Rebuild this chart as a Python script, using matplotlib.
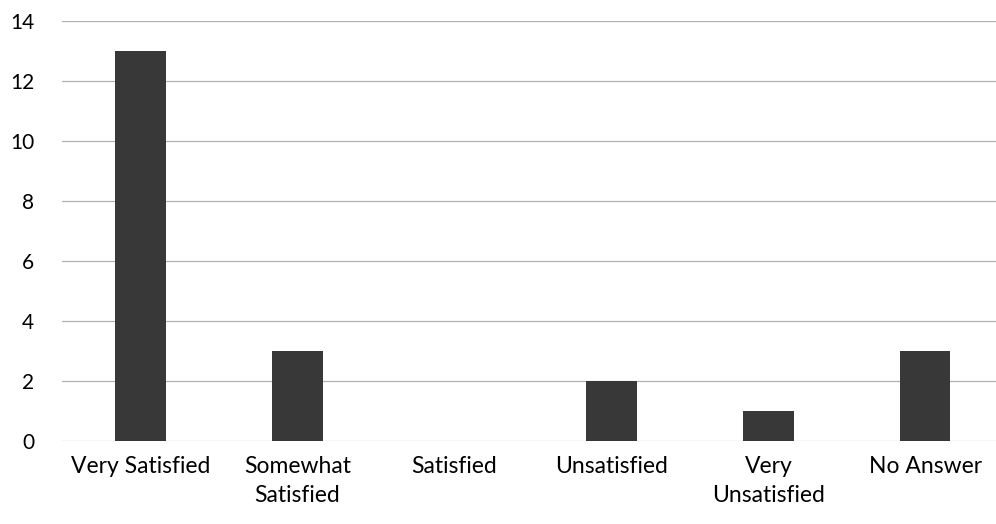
import matplotlib
matplotlib.use("Agg")
import matplotlib.pyplot as plt

categories = ["Very Satisfied", "Somewhat\nSatisfied", "Satisfied",
              "Unsatisfied", "Very\nUnsatisfied", "No Answer"]
counts = [13, 3, 0, 2, 1, 3]
y_ticks = [0, 2, 4, 6, 8, 10, 12, 14]

plt.rcParams["font.family"] = ["Lato", "DejaVu Sans"]

fig = plt.figure(figsize=(9.96, 5.24), dpi=100)
ax = fig.add_axes([62 / 996, 83 / 524, 934 / 996, 420 / 524])

x = list(range(len(categories)))
ax.bar(x, counts, width=0.32, color="#383838", zorder=3)

ax.set_xlim(-0.5, 5.45)
ax.set_ylim(0, 14)
ax.set_yticks(y_ticks)
ax.set_yticklabels([str(v) for v in y_ticks], fontsize=15)
ax.set_xticks(x)
ax.set_xticklabels(categories, fontsize=16.5, linespacing=1.45)

ax.yaxis.grid(True, color="#b0b0b0", linewidth=0.9, zorder=0)
for side in ["top", "right", "left", "bottom"]:
    ax.spines[side].set_visible(False)
ax.tick_params(axis="both", length=0, colors="black")
ax.tick_params(axis="y", pad=20)
ax.tick_params(axis="x", pad=11)

fig.savefig("out.png", dpi=100)
